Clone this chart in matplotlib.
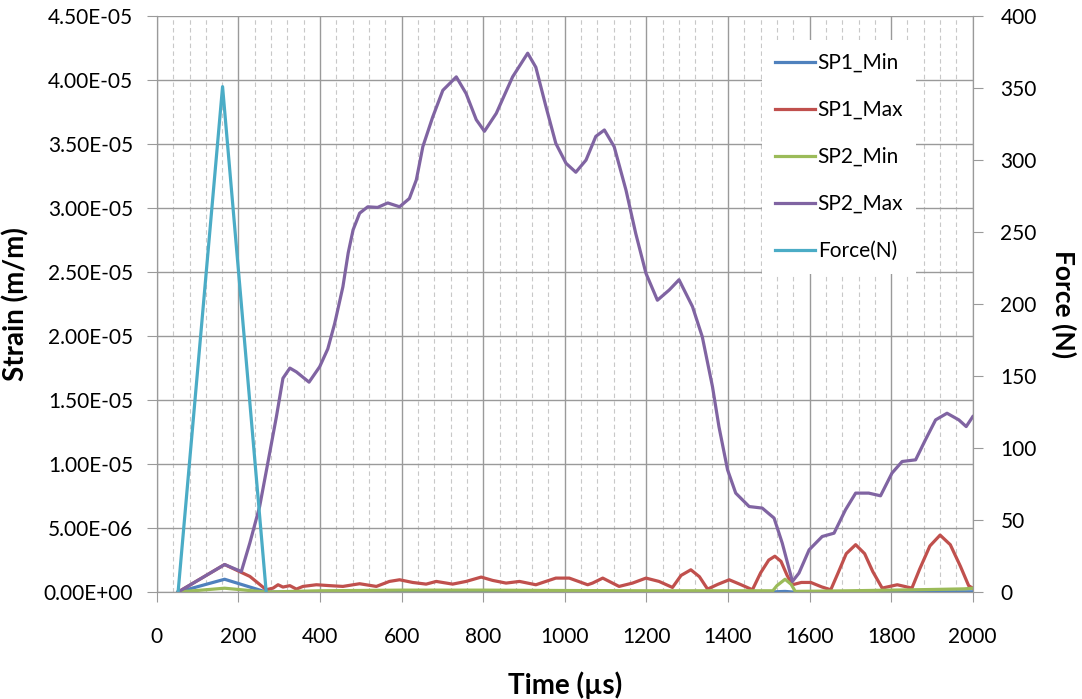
import matplotlib
matplotlib.use("Agg")
import matplotlib.pyplot as plt
from matplotlib.ticker import MultipleLocator, FormatStrFormatter

plt.rcParams['font.family'] = ['Lato', 'DejaVu Sans']

# strain values in units of 1e-6 m/m, time in microseconds
sp2_max_t = [52, 166, 207, 228, 252, 272, 293, 309, 326, 342, 373, 399, 419, 436, 456, 469, 481, 497,
             517, 541, 566, 595, 619, 636, 652, 676, 701, 734, 758, 783, 803, 832, 872, 909, 929, 954,
             978, 1003, 1027, 1052, 1076, 1097, 1121, 1150, 1174, 1199, 1227, 1256, 1280, 1313, 1337,
             1362, 1378, 1399, 1419, 1452, 1484, 1513, 1533, 1558, 1574, 1599, 1631, 1660, 1688, 1713,
             1745, 1774, 1802, 1827, 1860, 1884, 1909, 1937, 1966, 1984, 2000]
sp2_max_v = [0, 2.15, 1.6, 3.85, 6.7, 10.1, 13.7, 16.7, 17.5, 17.2, 16.4, 17.6, 19.0, 21.0, 23.85, 26.5,
             28.3, 29.6, 30.1, 30.05, 30.4, 30.1, 30.75, 32.2, 34.8, 37.1, 39.2, 40.25, 38.95, 36.9, 36.0,
             37.4, 40.25, 42.1, 41.0, 37.9, 35.05, 33.5, 32.8, 33.75, 35.6, 36.1, 34.8, 31.4, 28.0, 24.9,
             22.8, 23.6, 24.4, 22.3, 19.95, 16.05, 12.9, 9.55, 7.73, 6.68, 6.56, 5.78, 3.83, 0.83, 1.48,
             3.3, 4.34, 4.6, 6.42, 7.73, 7.73, 7.52, 9.29, 10.2, 10.33, 11.89, 13.45, 13.97, 13.45, 12.93,
             13.7]

sp1_max_t = [52, 166, 228, 268, 285, 297, 309, 326, 342, 358, 391, 424, 456, 497, 538, 570, 595, 627,
             660, 685, 725, 758, 795, 823, 856, 889, 929, 978, 1011, 1056, 1068, 1093, 1109, 1133, 1166,
             1199, 1231, 1264, 1285, 1309, 1330, 1350, 1375, 1403, 1430, 1460, 1480, 1500, 1515, 1530,
             1545, 1558, 1580, 1603, 1630, 1652, 1670, 1690, 1713, 1735, 1755, 1778, 1815, 1851, 1870,
             1895, 1920, 1945, 1970, 1990, 2000]
sp1_max_v = [0, 2.15, 1.22, 0.18, 0.31, 0.57, 0.39, 0.5, 0.23, 0.44, 0.57, 0.5, 0.44, 0.65, 0.44, 0.83,
             0.96, 0.75, 0.62, 0.83, 0.62, 0.83, 1.17, 0.91, 0.7, 0.83, 0.57, 1.09, 1.09, 0.57, 0.7, 1.09,
             0.83, 0.44, 0.7, 1.09, 0.83, 0.36, 1.3, 1.74, 1.2, 0.23, 0.6, 0.96, 0.6, 0.18, 1.5, 2.5, 2.8,
             2.4, 1.3, 0.57, 0.75, 0.75, 0.4, 0.18, 1.5, 3.0, 3.7, 3.0, 1.6, 0.31, 0.57, 0.31, 1.8, 3.6,
             4.45, 3.7, 2.0, 0.5, 0.3]

sp1_min_t = [52, 166, 268, 1500, 1540, 1560, 2000]
sp1_min_v = [0, 1.0, 0, 0, 0.05, 0, 0.02]

sp2_min_t = [52, 166, 268, 400, 600, 800, 1000, 1200, 1400, 1510, 1520, 1540, 1555, 1565, 1700, 1900,
             1980, 2000]
sp2_min_v = [0, 0.3, 0, 0.1, 0.15, 0.15, 0.12, 0.1, 0.1, 0.1, 0.5, 1.0, 0.6, 0.05, 0.1, 0.2, 0.25, 0.3]

force_t = [52, 161, 268]
force_v = [0, 351, 0]

fig = plt.figure(figsize=(10.82, 6.99), dpi=100)
ax = fig.add_axes([0.145, 0.153, 0.754, 0.824])
ax2 = ax.twinx()

lw = 2.3
scale = 1e-6
l1, = ax.plot(sp1_min_t, [v * scale for v in sp1_min_v], color='#4F81BD', lw=lw, label='SP1_Min')
l2, = ax.plot(sp1_max_t, [v * scale for v in sp1_max_v], color='#C0504D', lw=lw, label='SP1_Max')
l3, = ax.plot(sp2_min_t, [v * scale for v in sp2_min_v], color='#9BBB59', lw=lw, label='SP2_Min')
l4, = ax.plot(sp2_max_t, [v * scale for v in sp2_max_v], color='#8064A2', lw=lw, label='SP2_Max')
l5, = ax2.plot(force_t, force_v, color='#4BACC6', lw=lw, label='Force(N)')

ax.set_xlim(0, 2000)
ax.set_ylim(0, 4.5e-5)
ax2.set_ylim(0, 400)
ax.xaxis.set_major_locator(MultipleLocator(200))
ax.xaxis.set_minor_locator(MultipleLocator(40))
ax.yaxis.set_major_locator(MultipleLocator(5e-6))
ax.yaxis.set_major_formatter(FormatStrFormatter('%.2E'))
ax2.yaxis.set_major_locator(MultipleLocator(50))

ax.grid(which='major', axis='both', color='#9A9A9A', lw=1.0)
ax.grid(which='minor', axis='x', color='#C8C8C8', lw=0.8, ls=(0, (4, 3)))
ax.set_axisbelow(True)

for a in (ax, ax2):
    a.spines['top'].set_visible(False)
    for s in ('left', 'right', 'bottom'):
        a.spines[s].set_color('#9A9A9A')
ax.tick_params(which='major', length=7, color='#9A9A9A', labelsize=15)
ax.tick_params(axis='x', which='major', pad=18)
ax.tick_params(axis='y', which='major', pad=10)
ax.tick_params(which='minor', length=0)
ax2.tick_params(length=7, color='#9A9A9A', labelsize=15, pad=13)

ax.set_xlabel('Time (µs)', fontsize=20, fontweight='bold', labelpad=18)
ax.set_ylabel('Strain (m/m)', fontsize=20, fontweight='bold')
ax2.set_ylabel('Force (N)', fontsize=19, fontweight='bold', rotation=270, va='center')
ax.yaxis.set_label_coords(-0.156, 0.5)
ax2.yaxis.set_label_coords(1.112, 0.5)

leg = ax2.legend(handles=[l1, l2, l3, l4, l5], loc='upper left',
                 bbox_to_anchor=(752 / 1082, 1 - 30 / 699), bbox_transform=fig.transFigure,
                 frameon=True, fontsize=15, labelspacing=1.3, handlelength=1.9,
                 handletextpad=0.15, borderpad=0.6, fancybox=False)
leg.get_frame().set_edgecolor('none')
leg.get_frame().set_facecolor('white')
leg.get_frame().set_alpha(1.0)

fig.savefig('out.png', dpi=100)
